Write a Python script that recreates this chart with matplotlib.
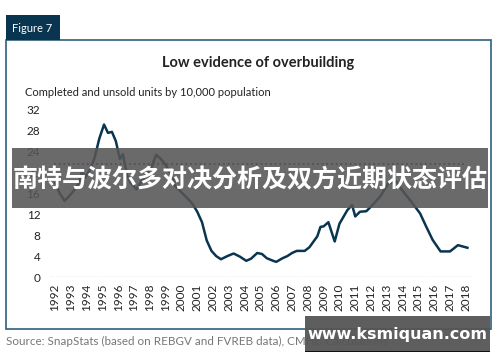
import matplotlib
matplotlib.use("Agg")
import matplotlib.pyplot as plt
from matplotlib.patches import Rectangle

# data
years = [1992.0, 1992.3, 1992.6, 1992.9, 1993.2, 1993.5, 1993.7, 1993.9, 1994.2, 1994.5,
         1994.8, 1995.1, 1995.35, 1995.6, 1995.85, 1996.1, 1996.3, 1996.55, 1996.8, 1997.15,
         1997.5, 1997.8, 1998.1, 1998.4, 1998.7, 1999.0, 1999.3, 1999.6, 2000.0, 2000.4,
         2000.7, 2001.0, 2001.3, 2001.6, 2001.9, 2002.2, 2002.5, 2002.9, 2003.3, 2003.7,
         2004.1, 2004.4, 2004.8, 2005.1, 2005.4, 2005.8, 2006.0, 2006.4, 2006.7, 2007.0,
         2007.3, 2007.8, 2008.1, 2008.6, 2008.8, 2009.0, 2009.3, 2009.7, 2010.0, 2010.5,
         2010.8, 2011.0, 2011.3, 2011.7, 2012.1, 2012.6, 2013.1, 2013.6, 2014.0, 2014.5,
         2015.1, 2015.5, 2015.9, 2016.4, 2017.0, 2017.5, 2018.1]
units = [18.0, 16.0, 14.6, 15.5, 16.6, 18.0, 20.2, 19.0, 20.5, 22.8,
         26.5, 29.2, 27.6, 27.8, 26.0, 22.6, 23.5, 19.5, 18.0, 16.8,
         18.5, 19.8, 21.0, 23.4, 22.6, 21.5, 19.8, 17.5, 16.2, 15.0,
         14.0, 12.5, 10.5, 7.0, 5.0, 4.0, 3.4, 4.0, 4.5, 3.9,
         3.1, 3.5, 4.6, 4.4, 3.6, 3.1, 2.9, 3.6, 4.0, 4.6,
         5.0, 5.0, 5.7, 7.8, 9.6, 9.7, 10.5, 6.8, 10.2, 12.8,
         13.8, 11.6, 12.5, 12.6, 13.8, 15.5, 18.0, 18.3, 16.5, 14.6,
         12.2, 9.6, 7.1, 4.9, 4.9, 6.1, 5.6]
average = 21.6
year_ticks = list(range(1992, 2019))
y_ticks = [0, 4, 8, 12, 16, 20, 24, 28, 32]

W, H = 500, 362
fig = plt.figure(figsize=(5, 3.62), dpi=100)

def fx(px):
    return px / W

def fy(py):
    return 1 - py / H

navy = "#0a3550"
font = "Lato"

# outer frame and tab
fig.patches.append(Rectangle((fx(6), fy(329)), fx(491 - 6), (329 - 40) / H,
                             transform=fig.transFigure, fill=False,
                             edgecolor="#2f5f7a", linewidth=1.2))
fig.patches.append(Rectangle((fx(6), fy(40)), fx(60 - 6), (40 - 15) / H,
                             transform=fig.transFigure, facecolor=navy,
                             edgecolor="none"))
fig.text(fx(12), fy(28), "Figure 7", color="white", fontsize=8, family=font,
         va="center", ha="left")

fig.text(fx(258), fy(63), "Low evidence of overbuilding", fontsize=10.5,
         family=font, weight="bold", ha="center", va="center", color="#222222")
fig.text(fx(25), fy(93), "Completed and unsold units by 10,000 population",
         fontsize=8, family=font, ha="left", va="center", color="#222222")

ax = fig.add_axes([fx(50), fy(277), fx(472 - 50), (277 - 104.7) / H])
ax.plot(years, units, color=navy, linewidth=1.8, solid_joinstyle="round")
ax.axhline(average, xmin=0.01, xmax=0.98, color="#8b1a1a", linestyle=(0, (1, 1.6)),
           linewidth=1.3)
ax.axhline(0, color="#bbbbbb", linestyle=(0, (1, 1)), linewidth=1.0)
ax.set_xlim(1991.68, 2018.39)
ax.set_ylim(0, 33)
ax.set_yticks(y_ticks)
ax.set_yticklabels([str(v) for v in y_ticks], fontsize=8.5, family=font, color="#222222")
ax.set_xticks(year_ticks)
ax.set_xticklabels([str(v) for v in year_ticks], rotation=90, fontsize=8.5,
                   family=font, color="#222222")
ax.tick_params(length=0, pad=7)
ax.tick_params(axis="x", pad=5)
for s in ax.spines.values():
    s.set_visible(False)
ax.patch.set_alpha(0)

fig.text(fx(6), fy(341), "Source: SnapStats (based on REBGV and FVREB data), CMHC Calculations",
         fontsize=8.4, family=font, color="#777777", ha="left", va="center")

# overlay banner
fig.patches.append(Rectangle((fx(12), fy(208)), fx(488 - 12), (208 - 148) / H,
                             transform=fig.transFigure, facecolor="#555555",
                             alpha=0.88, edgecolor="none", zorder=5))
fig.text(fx(250), fy(180), "南特与波尔多对决分析及双方近期状态评估", color="white",
         fontsize=18, weight="bold", family=["Noto Sans CJK SC", "DejaVu Sans"],
         ha="center", va="center", zorder=6)

# watermark box
fig.patches.append(Rectangle((fx(305), fy(352)), fx(490 - 305), (352 - 316) / H,
                             transform=fig.transFigure, facecolor="#555555",
                             alpha=0.95, edgecolor="none", zorder=5))
fig.patches.append(Rectangle((fx(305), fy(352)), fx(490 - 305), 1.5 / H,
                             transform=fig.transFigure, facecolor="#111111",
                             edgecolor="none", zorder=5))
fig.text(fx(397), fy(334), "www.ksmiquan.com", color="white", fontsize=11.5,
         weight="bold", family="DejaVu Sans", ha="center", va="center", zorder=6)

fig.savefig("out.png", dpi=100)
